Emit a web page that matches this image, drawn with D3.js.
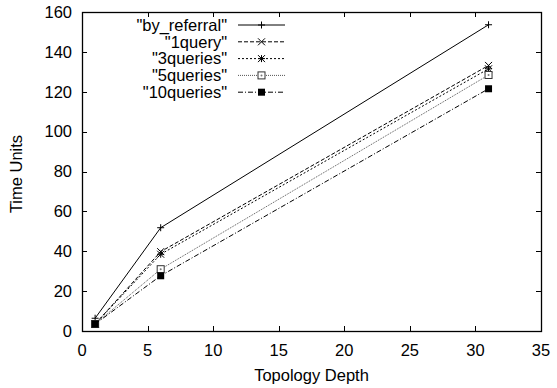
<!DOCTYPE html>
<html>
<head>
<meta charset="utf-8">
<script src="https://cdn.jsdelivr.net/npm/d3@7"></script>
<style>
	body { margin: 0; background: #fff; }
	text { font-family: "Liberation Sans", Arial, sans-serif; font-size: 16.5px; fill: #000; }
</style>
</head>
<body>
<div id="chart"></div>
<script>
// data
var depths = [1, 6, 31];
var seriesNames = ['"by_referral"', '"1query"', '"3queries"', '"5queries"', '"10queries"'];
var byReferral = [6.4, 51.8, 153.6];
var oneQuery = [3.5, 39.8, 133.2];
var threeQueries = [3.5, 38.5, 131.5];
var fiveQueries = [3.5, 31.0, 128.4];
var tenQueries = [3.5, 27.7, 121.5];
var xTicks = [0, 5, 10, 15, 20, 25, 30, 35];
var yTicks = [0, 20, 40, 60, 80, 100, 120, 140, 160];

var W = 557, H = 388;
var margin = { left: 82, top: 12, right: 16, bottom: 57 };

var svg = d3.select('#chart').append('svg')
	.attr('width', W)
	.attr('height', H);

var x = d3.scaleLinear().domain([0, 35]).range([margin.left, W - margin.right]);
var y = d3.scaleLinear().domain([0, 160]).range([H - margin.bottom, margin.top]);

var series = [
	{ name: seriesNames[0], values: byReferral, dash: null, color: '#000', mark: 'plus' },
	{ name: seriesNames[1], values: oneQuery, dash: '4,2', color: '#000', mark: 'cross' },
	{ name: seriesNames[2], values: threeQueries, dash: '2,2', color: '#000', mark: 'star' },
	{ name: seriesNames[3], values: fiveQueries, dash: '1,1', color: '#555', mark: 'box' },
	{ name: seriesNames[4], values: tenQueries, dash: '5,2,1,2', color: '#000', mark: 'fbox' }
];

// ticks (inward, mirrored on top/right)
var tickLen = 5;
var axes = svg.append('g').attr('stroke', '#000').attr('stroke-width', 1);
xTicks.forEach(function (t) {
	var px = Math.round(x(t)) + 0.5;
	axes.append('line').attr('x1', px).attr('x2', px).attr('y1', y(0)).attr('y2', y(0) - tickLen);
	axes.append('line').attr('x1', px).attr('x2', px).attr('y1', y(160)).attr('y2', y(160) + tickLen);
});
yTicks.forEach(function (t) {
	var py = Math.round(y(t)) + 0.5;
	axes.append('line').attr('x1', x(0)).attr('x2', x(0) + tickLen).attr('y1', py).attr('y2', py);
	axes.append('line').attr('x1', x(35)).attr('x2', x(35) - tickLen).attr('y1', py).attr('y2', py);
});

svg.append('rect')
	.attr('x', Math.round(x(0)) + 0.5)
	.attr('y', Math.round(y(160)) + 0.5)
	.attr('width', Math.round(x(35) - x(0)))
	.attr('height', Math.round(y(0) - y(160)))
	.attr('fill', 'none')
	.attr('stroke', '#000')
	.attr('stroke-width', 1.3);

// tick labels
svg.append('g').selectAll('text')
	.data(xTicks).enter().append('text')
	.attr('x', function (d) { return x(d); })
	.attr('y', 355.5)
	.attr('text-anchor', 'middle')
	.text(function (d) { return d; });

svg.append('g').selectAll('text')
	.data(yTicks).enter().append('text')
	.attr('x', x(0) - 10)
	.attr('y', function (d) { return y(d); })
	.attr('dy', '0.35em')
	.attr('text-anchor', 'end')
	.text(function (d) { return d; });

svg.append('text')
	.attr('x', (x(0) + x(35)) / 2)
	.attr('y', 381)
	.attr('text-anchor', 'middle')
	.text('Topology Depth');

svg.append('text')
	.attr('transform', 'translate(22,174) rotate(-90)')
	.attr('text-anchor', 'middle')
	.text('Time Units');

function drawMark(g, kind, cx, cy) {
	var s = 3.5;
	if (kind == 'plus' || kind == 'star') {
		g.append('path').attr('d', 'M' + (cx - s) + ',' + cy + 'H' + (cx + s) + 'M' + cx + ',' + (cy - s) + 'V' + (cy + s))
			.attr('stroke', '#000').attr('fill', 'none');
	}
	if (kind == 'cross' || kind == 'star') {
		g.append('path').attr('d', 'M' + (cx - s) + ',' + (cy - s) + 'L' + (cx + s) + ',' + (cy + s) + 'M' + (cx - s) + ',' + (cy + s) + 'L' + (cx + s) + ',' + (cy - s))
			.attr('stroke', '#000').attr('fill', 'none');
	}
	if (kind == 'box') {
		g.append('rect').attr('x', cx - s).attr('y', cy - s).attr('width', 2 * s).attr('height', 2 * s)
			.attr('fill', '#fff').attr('stroke', '#333');
		g.append('circle').attr('cx', cx).attr('cy', cy).attr('r', 1).attr('fill', '#777');
	}
	if (kind == 'fbox') {
		g.append('rect').attr('x', cx - s).attr('y', cy - s).attr('width', 2 * s).attr('height', 2 * s)
			.attr('fill', '#000');
	}
}

var line = d3.line()
	.x(function (d, i) { return x(depths[i]); })
	.y(function (d) { return y(d); });

var plot = svg.append('g');
series.forEach(function (s) {
	plot.append('path')
		.attr('d', line(s.values))
		.attr('fill', 'none')
		.attr('stroke', s.color)
		.attr('stroke-width', 1)
		.attr('stroke-dasharray', s.dash);
	s.values.forEach(function (v, i) {
		drawMark(plot, s.mark, x(depths[i]), y(v));
	});
});

// legend
var legend = svg.append('g');
series.forEach(function (s, i) {
	var ly = 25 + i * 16.8;
	legend.append('text')
		.attr('x', 227)
		.attr('y', ly)
		.attr('dy', '0.35em')
		.attr('text-anchor', 'end')
		.text(s.name);
	legend.append('line')
		.attr('x1', 238).attr('x2', 285)
		.attr('y1', ly).attr('y2', ly)
		.attr('stroke', s.color)
		.attr('stroke-dasharray', s.dash);
	drawMark(legend, s.mark, 261.5, ly);
});
</script>
</body>
</html>
